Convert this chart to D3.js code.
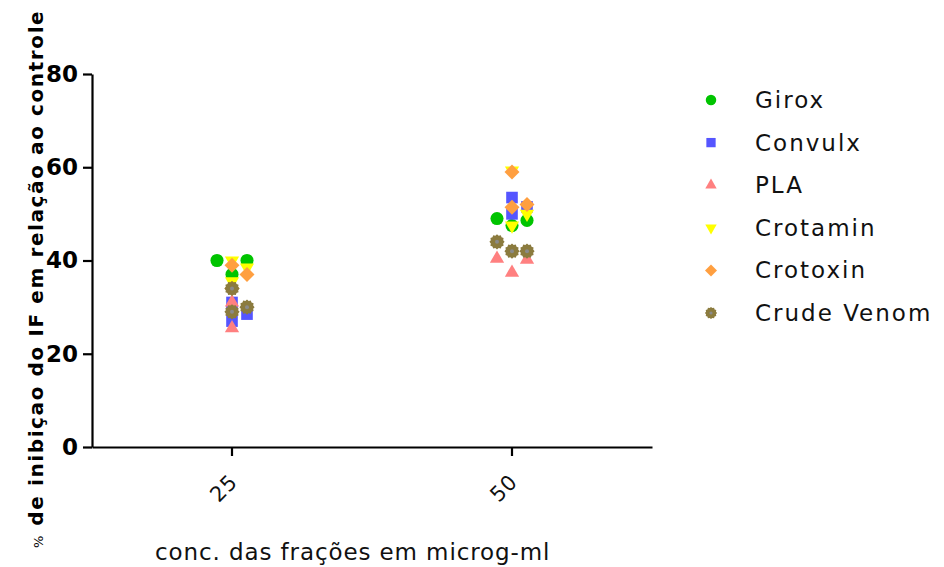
<!DOCTYPE html>
<html>
<head>
<meta charset="utf-8">
<script src="https://cdn.jsdelivr.net/npm/d3@7"></script>
<style>
    body { margin: 0; background: #fff; }
    svg { display: block; }
    .axis path, .axis line { stroke: #000; stroke-width: 2.2px; }
    .yAxis text { font-family: "DejaVu Sans", sans-serif; font-weight: bold; font-size: 23px; fill: #000; }
    .xAxis text { font-family: "DejaVu Sans", sans-serif; font-size: 21px; fill: #111; letter-spacing: 1px; }
    .legend text { font-family: "DejaVu Sans", sans-serif; font-size: 23px; fill: #111; letter-spacing: 2px; }
</style>
</head>
<body>
<svg id="chart" width="944" height="567"></svg>
<script>
"use strict";

// Data (three replicates per fraction, a few hidden under others)
var concentrations = [25, 50];
var seriesNames = ["Girox", "Convulx", "PLA", "Crotamin", "Crotoxin", "Crude Venom"];
var girox      = [[37, 40, 40],     [47.5, 48.6, 49]];
var convulx    = [[27, 28.5, 31],   [50, 51.5, 53.5]];
var pla        = [[25.5, 31],       [37.4, 40.2, 40.4]];
var crotamin   = [[35.5, 38.5, 40], [47.5, 50, 59.3]];
var crotoxin   = [[34, 37, 39],     [51.4, 52, 59]];
var crudeVenom = [[29, 30, 34],     [42, 42, 44]];
var yTicks = [0, 20, 40, 60, 80];

var seriesValues = [girox, convulx, pla, crotamin, crotoxin, crudeVenom];
var seriesColors = ["#00c400", "#5555ff", "#ff8080", "#ffff00", "#ff9f40", "#8b7b3e"];
var seriesShapes = ["circle", "square", "triangle", "triangleDown", "diamond", "gear"];

var svg = d3.select("#chart"),
    plotLeft = 92,
    plotRight = 652,
    plotTop = 74,
    plotBottom = 447,
    spread = 15,     // horizontal step used when two points collide
    collide = 15;    // vertical distance (px) under which points collide

var x = d3.scaleBand().domain(concentrations).range([plotLeft, plotRight]);
var y = d3.scaleLinear().domain([0, 80]).range([plotBottom, plotTop]);

// symbol paths, centred at 0,0
function gearPath() {
    var pts = d3.range(24).map(function (i) {
        return [i * Math.PI / 12, i % 2 === 0 ? 7.6 : 6.4];
    });
    return d3.lineRadial().curve(d3.curveLinearClosed)(pts);
}
function shapePath(kind) {
    if (kind === "circle") { return d3.symbol(d3.symbolCircle, 135)(); }
    if (kind === "square") { return d3.symbol(d3.symbolSquare, 135)(); }
    if (kind === "triangle" || kind === "triangleDown") { return d3.symbol(d3.symbolTriangle, 88)(); }
    if (kind === "diamond") { return d3.symbol(d3.symbolSquare, 112)(); }
    return gearPath();
}
function shapeRotation(kind) {
    if (kind === "triangleDown") { return 180; }
    if (kind === "diamond") { return 45; }
    return 0;
}

// GraphPad style scatter: points of one data set that would overlap get pushed sideways
function layoutPoints() {
    var points = [];
    seriesValues.forEach(function (groups, s) {
        groups.forEach(function (vals, g) {
            var placed = [];
            vals.slice().sort(d3.ascending).forEach(function (v) {
                var slots = [0, 1, -1, 2, -2],
                    slot = 0,
                    k;
                function hits(p) {
                    return p.slot === slot && Math.abs(y(p.value) - y(v)) < collide;
                }
                for (k = 0; k < slots.length; k += 1) {
                    slot = slots[k];
                    if (!placed.some(hits)) { break; }
                }
                placed.push({slot: slot, value: v});
                points.push({series: s, group: concentrations[g], value: v, slot: slot});
            });
        });
    });
    return points;
}

// Axes
var yAxis = d3.axisLeft(y).tickValues(yTicks).tickSize(9).tickSizeOuter(0).tickPadding(5);
svg.append("g")
    .attr("class", "axis yAxis")
    .attr("transform", "translate(" + plotLeft + ",0)")
    .call(yAxis);

var xAxis = d3.axisBottom(x).tickSize(9).tickSizeOuter(0);
svg.append("g")
    .attr("class", "axis xAxis")
    .attr("transform", "translate(0," + plotBottom + ")")
    .call(xAxis)
    .selectAll("text")
    .attr("text-anchor", "end")
    .attr("dy", null)
    .attr("y", 0)
    .attr("transform", "translate(7,36) rotate(-45)");

// Points
var points = layoutPoints();
var marks = svg.append("g").attr("class", "marks")
    .selectAll("g")
    .data(points)
    .enter().append("g")
    .attr("transform", function (d) {
        return "translate(" + (x(d.group) + x.bandwidth() / 2 + d.slot * spread) + "," + y(d.value) + ")";
    });
marks.append("path")
    .attr("d", function (d) { return shapePath(seriesShapes[d.series]); })
    .attr("transform", function (d) { return "rotate(" + shapeRotation(seriesShapes[d.series]) + ")"; })
    .attr("fill", function (d) { return seriesColors[d.series]; });
marks.filter(function (d) { return seriesShapes[d.series] === "gear"; })
    .append("circle")
    .attr("r", 2)
    .attr("fill", "#8a8a8a");

// Legend
var legend = svg.append("g").attr("class", "legend")
    .selectAll("g")
    .data(seriesNames)
    .enter().append("g")
    .attr("transform", function (d, i) { return "translate(711," + (100 + i * 42.6) + ")"; });
legend.append("path")
    .attr("d", function (d, i) { return shapePath(seriesShapes[i]); })
    .attr("transform", function (d, i) {
        return "rotate(" + shapeRotation(seriesShapes[i]) + ") scale(0.8)";
    })
    .attr("fill", function (d, i) { return seriesColors[i]; });
legend.filter(function (d, i) { return seriesShapes[i] === "gear"; })
    .append("circle")
    .attr("r", 1.6)
    .attr("fill", "#8a8a8a");
legend.append("text")
    .attr("x", 44)
    .attr("y", 8)
    .text(function (d) { return d; });

// Axis titles
svg.append("text")
    .attr("x", 155)
    .attr("y", 560)
    .style("font-family", "DejaVu Sans, sans-serif")
    .style("font-size", "23px")
    .style("letter-spacing", "0.9px")
    .style("fill", "#111")
    .text("conc. das frações em microg-ml");

var yTitle = svg.append("text")
    .attr("transform", "translate(43,548) rotate(-90)")
    .style("font-family", "DejaVu Sans, sans-serif")
    .style("fill", "#000");
yTitle.append("tspan")
    .style("font-size", "13px")
    .text("%");
yTitle.append("tspan")
    .attr("dx", 10)
    .style("font-size", "20px")
    .style("font-weight", "bold")
    .style("letter-spacing", "1.6px")
    .text("de inibiçao do IF em relação ao controle");
</script>
</body>
</html>
